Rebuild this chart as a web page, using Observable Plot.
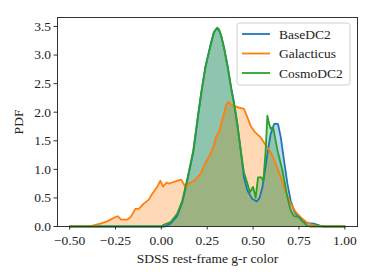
<!DOCTYPE html>
<html>
<head>
<meta charset="utf-8">
<script src="https://cdn.jsdelivr.net/npm/d3@7"></script>
<script src="https://cdn.jsdelivr.net/npm/@observablehq/plot@0.6"></script>
<style>
  html, body { margin: 0; padding: 0; background: #fff; }
  #chart { width: 374px; height: 280px; }
  #chart svg, #chart svg text { font-family: "Liberation Serif", "DejaVu Serif", serif !important; }
</style>
</head>
<body>
<div id="chart"></div>
<script>
// ---- data ----
const seriesNames = ["BaseDC2", "Galacticus", "CosmoDC2"];
const seriesColors = ["#1f77b4", "#ff7f0e", "#2ca02c"];

const baseX = [-0.5, 0.02, 0.05, 0.086, 0.114, 0.137, 0.159, 0.174, 0.186, 0.204, 0.219, 0.241, 0.268, 0.286, 0.300, 0.314, 0.325, 0.341, 0.36, 0.381, 0.396, 0.414, 0.432, 0.45, 0.469, 0.496, 0.52, 0.535, 0.551, 0.565, 0.578, 0.596, 0.614, 0.625, 0.636, 0.651, 0.669, 0.687, 0.705, 0.727, 0.75, 0.77, 0.80, 0.83, 0.86, 0.88, 1.0];
const baseY = [0, 0, 0.05, 0.18, 0.42, 0.74, 1.07, 1.30, 1.58, 2.02, 2.36, 2.80, 3.18, 3.40, 3.46, 3.44, 3.35, 3.14, 2.83, 2.42, 2.17, 1.80, 1.35, 0.86, 0.63, 0.48, 0.44, 0.50, 0.69, 0.98, 1.27, 1.62, 1.79, 1.80, 1.79, 1.56, 1.15, 0.75, 0.45, 0.25, 0.16, 0.09, 0.06, 0.05, 0.02, 0, 0];

const galX = [-0.5, -0.4, -0.37, -0.332, -0.296, -0.26, -0.238, -0.219, -0.187, -0.168, -0.141, -0.123, -0.096, -0.068, -0.05, -0.023, -0.005, 0.01, 0.028, 0.041, 0.059, 0.086, 0.108, 0.132, 0.15, 0.177, 0.214, 0.241, 0.268, 0.286, 0.30, 0.314, 0.328, 0.341, 0.354, 0.365, 0.378, 0.396, 0.423, 0.45, 0.469, 0.487, 0.51, 0.541, 0.569, 0.596, 0.623, 0.651, 0.678, 0.705, 0.733, 0.76, 0.79, 0.82, 0.85, 0.9, 1.0];
const galY = [0, 0, 0.02, 0.05, 0.09, 0.15, 0.18, 0.12, 0.12, 0.16, 0.31, 0.31, 0.40, 0.47, 0.57, 0.69, 0.80, 0.70, 0.77, 0.75, 0.77, 0.80, 0.82, 0.69, 0.75, 0.80, 0.92, 1.12, 1.27, 1.42, 1.59, 1.65, 1.82, 1.97, 2.13, 2.18, 2.14, 2.11, 2.08, 2.06, 1.91, 1.76, 1.65, 1.56, 1.42, 1.30, 1.10, 0.86, 0.60, 0.40, 0.25, 0.16, 0.08, 0.03, 0.01, 0, 0];

const cosmoX = [-0.5, 0.0, 0.013, 0.05, 0.086, 0.114, 0.137, 0.159, 0.174, 0.186, 0.204, 0.219, 0.241, 0.268, 0.286, 0.305, 0.314, 0.325, 0.341, 0.36, 0.381, 0.396, 0.414, 0.432, 0.45, 0.469, 0.483, 0.50, 0.514, 0.527, 0.545, 0.556, 0.568, 0.578, 0.587, 0.596, 0.609, 0.633, 0.66, 0.687, 0.705, 0.723, 0.75, 0.769, 0.787, 0.81, 1.0];
const cosmoY = [0, 0, 0.03, 0.075, 0.22, 0.45, 0.77, 1.10, 1.33, 1.62, 2.05, 2.38, 2.81, 3.16, 3.39, 3.48, 3.45, 3.35, 3.13, 2.81, 2.40, 2.15, 1.78, 1.35, 0.95, 0.75, 0.60, 0.69, 0.50, 0.86, 0.86, 0.80, 1.30, 1.94, 1.80, 1.71, 1.74, 1.33, 0.98, 0.51, 0.28, 0.18, 0.17, 0.10, 0.03, 0, 0];

const xTicks = [-0.5, -0.25, 0, 0.25, 0.5, 0.75, 1.0];
const yTicks = [0, 0.5, 1.0, 1.5, 2.0, 2.5, 3.0, 3.5];
const xLabel = "SDSS rest-frame g-r color";
const yLabel = "PDF";

// ---- tables ----
const toRows = (xs, ys) => xs.map((x, i) => ({x, y: ys[i]}));
const tables = [toRows(baseX, baseY), toRows(galX, galY), toRows(cosmoX, cosmoY)];

const font = "Liberation Serif, DejaVu Serif, serif";
const fs = 13.5;

const chart = Plot.plot({
  width: 374,
  height: 280,
  marginLeft: 57,
  marginRight: 17,
  marginTop: 17,
  marginBottom: 54,
  style: {fontFamily: font, fontSize: fs + "px", background: "#fff", color: "#222"},
  x: {domain: [-0.566, 1.069]},
  y: {domain: [0, 3.657]},
  marks: [
    ...tables.map((t, i) => Plot.areaY(t, {x: "x", y: "y", fill: seriesColors[i], fillOpacity: 0.3})),
    ...tables.map((t, i) => Plot.line(t, {x: "x", y: "y", stroke: seriesColors[i], strokeWidth: 1.8})),
    Plot.frame({stroke: "#333", strokeWidth: 1}),
    Plot.axisX(xTicks, {tickSize: 3.5, tickPadding: 5, stroke: "#333",
      tickFormat: d => d.toFixed(2).replace("-", "\u2212"), label: null, fontSize: fs}),
    Plot.axisY(yTicks, {tickSize: 3.5, tickPadding: 3, stroke: "#333",
      tickFormat: d => d.toFixed(1), label: null, fontSize: fs}),
    Plot.text([xLabel], {frameAnchor: "bottom", lineAnchor: "middle", textAnchor: "middle", dy: 32, fontSize: fs, fill: "#222"}),
    Plot.text([yLabel], {frameAnchor: "left", lineAnchor: "middle", textAnchor: "middle", dx: -39, rotate: -90, fontSize: fs, fill: "#222"})
  ]
});

document.getElementById("chart").appendChild(chart);

// ---- legend (drawn into the same svg) ----
const svg = d3.select(chart);
const lg = svg.append("g").attr("transform", "translate(237,23)").attr("text-anchor", "start");
lg.append("rect").attr("width", 113).attr("height", 62).attr("rx", 2.5)
  .attr("fill", "#fff").attr("fill-opacity", 0.85).attr("stroke", "#d0d0d0").attr("stroke-width", 1);
seriesNames.forEach((name, i) => {
  const cy = 11 + i * 19.5;
  lg.append("line").attr("x1", 5).attr("x2", 33).attr("y1", cy).attr("y2", cy)
    .attr("stroke", seriesColors[i]).attr("stroke-width", 1.8);
  lg.append("text").attr("x", 42).attr("y", cy).attr("dy", "0.35em")
    .attr("text-anchor", "start")
    .attr("font-family", font).attr("font-size", fs).attr("fill", "#222").text(name);
});
</script>
</body>
</html>
